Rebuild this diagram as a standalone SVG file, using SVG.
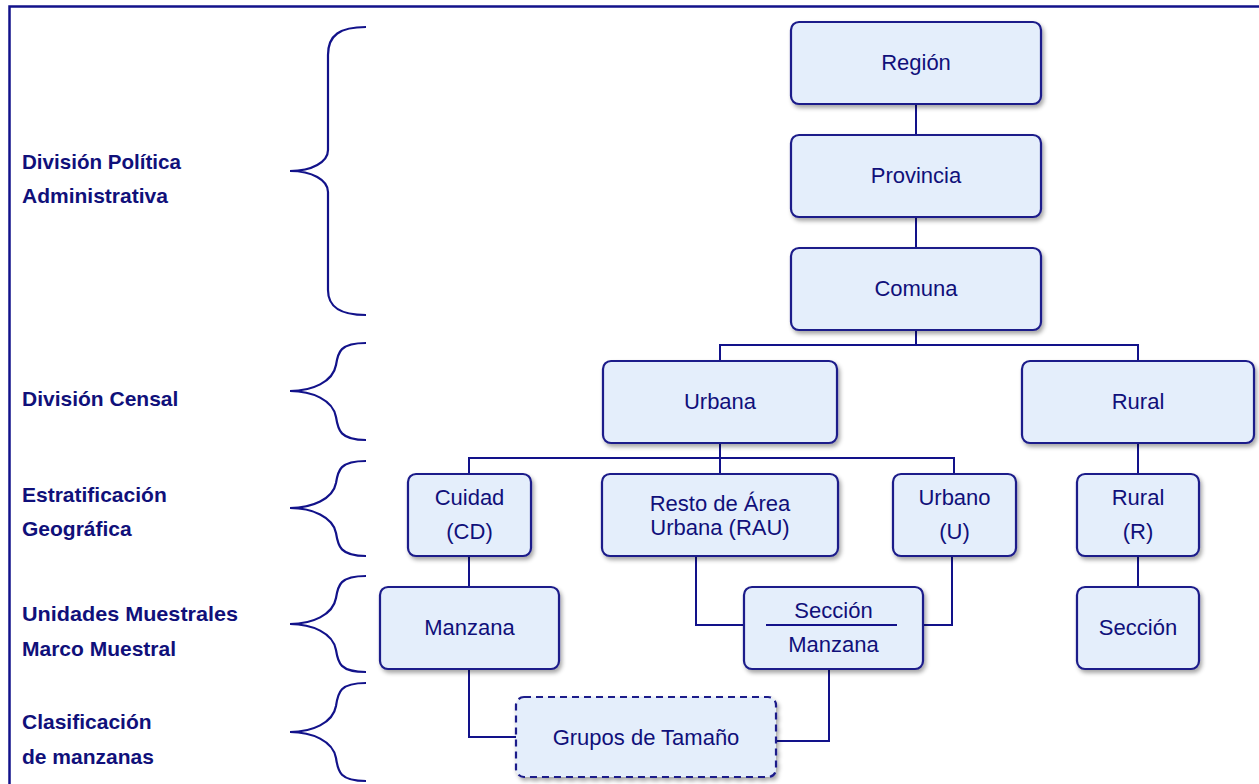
<svg xmlns="http://www.w3.org/2000/svg" width="1259" height="784" viewBox="0 0 1259 784">
<defs>
<filter id="sh" x="-10%" y="-10%" width="130%" height="140%">
<feDropShadow dx="2" dy="3" stdDeviation="2" flood-color="#000" flood-opacity="0.35"/>
</filter>
<style>
.box{fill:#e4eefb;stroke:#1c1c8a;stroke-width:2.2;filter:url(#sh)}
.dash{stroke-dasharray:7 5}
.t{font-family:"Liberation Sans",Arial,sans-serif;font-size:22px;fill:#10107a;text-anchor:middle;dominant-baseline:central}
.lb{font-family:"Liberation Sans",Arial,sans-serif;font-size:21px;font-weight:bold;fill:#10107a;dominant-baseline:central}
.c{fill:none;stroke:#12128a;stroke-width:2}
.br{fill:none;stroke:#12128a;stroke-width:2.2}
</style>
</defs>
<rect width="1259" height="784" fill="#fff"/>
<path d="M9.5,784 V6.5 H1259" fill="none" stroke="#12128a" stroke-width="2.5"/>

<g id="braces">
<path class="br" d="M366,27 C340,27 328,35 328,55 V150 C328,162 312,171 290,171 C312,171 328,180 328,192 V290 C328,307 340,315 366,315"/>
<path class="br" d="M366,343 C340,343 338,352 336,365 C333,382 312,391 290,391 C312,391 333,400 336,417 C338,430 340,440 366,440"/>
<path class="br" d="M366,461 C340,461 338,470 336,483 C333,499 312,508 290,508 C312,508 333,517 336,533 C338,546 340,556 366,556"/>
<path class="br" d="M366,576 C340,576 338,585 336,598 C333,615 312,624 290,624 C312,624 333,633 336,650 C338,663 340,672 366,672"/>
<path class="br" d="M366,683 C340,683 338,692 336,706 C333,723 312,732 290,732 C312,732 333,741 336,758 C338,772 340,781 366,781"/>
</g>

<g id="labels">
<text class="lb" x="22" y="161" textLength="159" lengthAdjust="spacingAndGlyphs">División Política</text>
<text class="lb" x="22" y="195">Administrativa</text>
<text class="lb" x="22" y="398">División Censal</text>
<text class="lb" x="22" y="494">Estratificación</text>
<text class="lb" x="22" y="528">Geográfica</text>
<text class="lb" x="22" y="613" textLength="216" lengthAdjust="spacingAndGlyphs">Unidades Muestrales</text>
<text class="lb" x="22" y="648">Marco Muestral</text>
<text class="lb" x="22" y="721">Clasificación</text>
<text class="lb" x="22" y="756">de manzanas</text>
</g>

<g id="connectors">
<path class="c" d="M916,104 V135"/>
<path class="c" d="M916,217 V248"/>
<path class="c" d="M916,330 V345 M720,361 V345 H1138 V361"/>
<path class="c" d="M720,443 V474"/>
<path class="c" d="M720,443 V458" stroke-width="4"/>
<path class="c" d="M469,474 V458 H954 V474"/>
<path class="c" d="M1138,443 V474" stroke-width="3"/>
<path class="c" d="M469,556 V587"/>
<path class="c" d="M696,556 V625 H744"/>
<path class="c" d="M952,556 V625 H923"/>
<path class="c" d="M1138,556 V587"/>
<path class="c" d="M469,669 V737 H516"/>
<path class="c" d="M829,669 V741 H776"/>
</g>

<g id="n-region"><rect class="box" x="791" y="22" width="250" height="82" rx="8"/><text class="t" x="916" y="62">Región</text></g>
<g id="n-provincia"><rect class="box" x="791" y="135" width="250" height="82" rx="8"/><text class="t" x="916" y="175">Provincia</text></g>
<g id="n-comuna"><rect class="box" x="791" y="248" width="250" height="82" rx="8"/><text class="t" x="916" y="288">Comuna</text></g>
<g id="n-urbana"><rect class="box" x="603" y="361" width="234" height="82" rx="8"/><text class="t" x="720" y="401">Urbana</text></g>
<g id="n-rural"><rect class="box" x="1022" y="361" width="232" height="82" rx="8"/><text class="t" x="1138" y="401">Rural</text></g>
<g id="n-cd"><rect class="box" x="408" y="474" width="123" height="82" rx="8"/><text class="t" x="469.5" y="497">Cuidad</text><text class="t" x="469.5" y="531">(CD)</text></g>
<g id="n-rau"><rect class="box" x="602" y="474" width="236" height="82" rx="8"/><text class="t" x="720" y="503">Resto de Área</text><text class="t" x="720" y="527">Urbana (RAU)</text></g>
<g id="n-u"><rect class="box" x="893" y="474" width="123" height="82" rx="8"/><text class="t" x="954.5" y="497">Urbano</text><text class="t" x="954.5" y="531">(U)</text></g>
<g id="n-r"><rect class="box" x="1077" y="474" width="122" height="82" rx="8"/><text class="t" x="1138" y="497">Rural</text><text class="t" x="1138" y="531">(R)</text></g>
<g id="n-manzana"><rect class="box" x="380" y="587" width="179" height="82" rx="8"/><text class="t" x="469.5" y="627">Manzana</text></g>
<g id="n-seccion-manzana"><rect class="box" x="744" y="587" width="179" height="82" rx="8"/><text class="t" x="833.5" y="610">Sección</text><line x1="766" y1="625" x2="897" y2="625" stroke="#12128a" stroke-width="2"/><text class="t" x="833.5" y="644">Manzana</text></g>
<g id="n-seccion"><rect class="box" x="1077" y="587" width="122" height="82" rx="8"/><text class="t" x="1138" y="627">Sección</text></g>
<g id="n-grupos"><rect class="box dash" x="516" y="697" width="260" height="80" rx="8"/><text class="t" x="646" y="737">Grupos de Tamaño</text></g>
</svg>
